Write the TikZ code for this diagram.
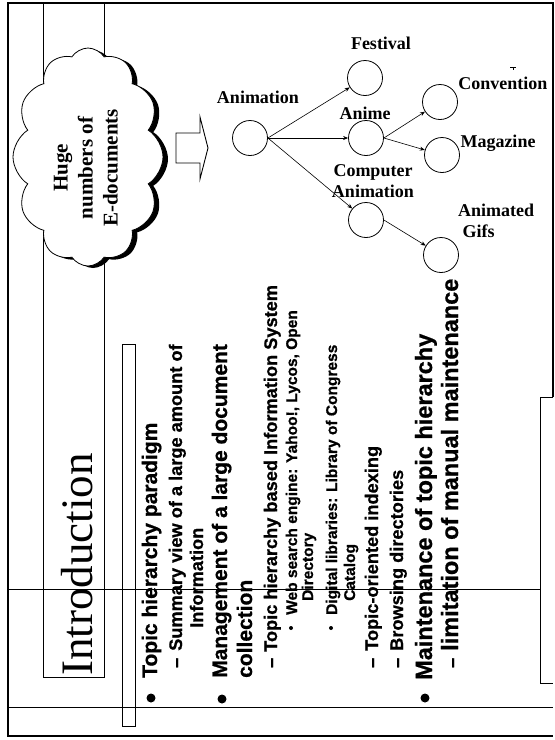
\documentclass[tikz,border=0pt]{standalone}
\usepackage{fontspec}
\setmainfont{Liberation Serif}
\setsansfont{Liberation Sans}[BoldFeatures={FakeBold=0.8}]
\usetikzlibrary{shapes.symbols, arrows.meta}

\begin{document}
\begin{tikzpicture}[x=1pt, y=-1pt,
  frame/.style={line width=0.9pt},
  border/.style={line width=2.2pt},
  topic/.style={circle, draw, line width=0.8pt, minimum size=35pt, inner sep=0pt},
  lbl/.style={font=\bfseries\fontsize{18}{21}\selectfont, inner sep=0pt, align=center},
  link/.style={-{Stealth[length=5pt,width=4pt]}, line width=0.6pt},
  vtext/.style={rotate=90, anchor=base west, inner sep=0pt},
  lvA/.style={vtext, font=\sffamily\bfseries\fontsize{21}{25}\selectfont},
  lvB/.style={vtext, font=\sffamily\bfseries\fontsize{18.2}{22}\selectfont},
  lvC/.style={vtext, font=\sffamily\bfseries\fontsize{15.5}{18}\selectfont},
  lvD/.style={vtext, font=\sffamily\bfseries\fontsize{23.5}{28}\selectfont},
  dot/.style={circle, fill, inner sep=0pt, minimum size=#1},
  puff/.style={cloud, cloud puffs=12, cloud puff arc=115, cloud ignores aspect,
    minimum width=150pt, minimum height=218pt, inner sep=0pt},
]
\useasboundingbox (0,0) rectangle (555,740);

% page frame and rules
\draw[border] (553,397) -- (553,3) -- (8,3) -- (8,736) -- (553,736);
\draw[frame] (553,397) -- (540,397) -- (540,683) -- (553,683);
\draw[frame] (8,589) -- (540,589);
\draw[frame] (8,707) -- (553,707);
\draw[frame] (43,3) -- (43,677) -- (104,677) -- (104,3);
\draw[frame] (122,344) rectangle (135,726);

% cloud with its shadow
\node[puff, fill=black] (cloudshadow) at (93,159) {};
\node[puff, draw, fill=white, line width=0.8pt] (cloud) at (88,157) {};
\node[rotate=90, align=center, inner sep=0pt,
  font=\bfseries\fontsize{21}{25}\selectfont] (cloudtxt) at (86,168)
  {Huge\\numbers of\\E-documents};

% hollow block arrow
\draw[line width=0.9pt, fill=white] (176,133) -- (200,133) -- (200,117) -- (208,148)
  -- (200,179) -- (200,163) -- (176,163) -- cycle;

% topic hierarchy
\node[topic] (anim)  at (250,138) {};
\node[topic] (fest)  at (365,78)  {};
\node[topic] (anime) at (366,138) {};
\node[topic] (comp)  at (366,220) {};
\node[topic] (conv)  at (440,102) {};
\node[topic] (mag)   at (442,155) {};
\node[topic] (gifs)  at (441,255) {};

\node[lbl] (animL)  at (258,97)  {Animation};
\node[lbl] (festL)  at (381,43)  {Festival};
\node[lbl] (animeL) at (365,113) {Anime};
\node[lbl] (convL)  at (503,83)  {Convention};
\node[lbl] (magL)   at (498,143) {Magazine};
\node[lbl] (compL)  at (373,181) {Computer\\Animation};
\node[lbl, align=left, anchor=west] (gifsL) at (458,221) {Animated\\\ Gifs};
\draw[line width=0.6pt] (510,67) -- (516,67) (513,67) -- (513,70);

\draw[link] (anim.east) -- (fest);
\draw[link] (anim.east) -- (anime);
\draw[link] (anim.east) -- (comp);
\draw[link] (anime.east) -- (conv);
\draw[link] (anime.east) -- (mag);
\draw[link] (comp.east) -- (gifs);

% slide title
\node[vtext, font=\fontsize{45}{50}\selectfont] (title) at (92,676) {Introduction};

% slide bullets
\node[dot=9pt] (b1) at (151,698) {};
\node[lvA] (t1) at (157,678) {Topic hierarchy paradigm};
\node[lvB] (d1) at (182,668) {–};
\node[lvB] (t2) at (182,651) {Summary view of a large amount of};
\node[lvB] (t3) at (203,628) {Information};

\node[dot=9pt] (b2) at (222,699) {};
\node[lvA] (t4) at (227,678) {Management of a large document};
\node[lvA] (t5) at (252,678) {collection};
\node[lvB] (d2) at (277,668) {–};
\node[lvB] (t6) at (277,652) {Topic hierarchy based Information System};
\node[dot=4pt] (b3) at (291,628) {};
\node[lvC] (t7) at (297,615) {Web search engine: Yahoo!, Lycos, Open};
\node[lvC] (t8) at (313,601) {Directory};
\node[dot=4pt] (b4) at (331,628) {};
\node[lvC] (t9) at (337,615) {Digital libraries: Library of Congress};
\node[lvC] (t10) at (355,601) {Catalog};
\node[lvB] (d3) at (378,668) {–};
\node[lvB] (t11) at (378,651) {Topic-oriented indexing};
\node[lvB] (d4) at (403,668) {–};
\node[lvB] (t12) at (403,651) {Browsing directories};

\node[dot=9pt] (b5) at (425,698) {};
\node[lvD] (t13) at (432,680) {Maintenance of topic hierarchy};
\node[lvB] (d5) at (458,668) {–};
\node[lvD] (t14) at (458,651) {limitation of manual maintenance};
\end{tikzpicture}
\end{document}
